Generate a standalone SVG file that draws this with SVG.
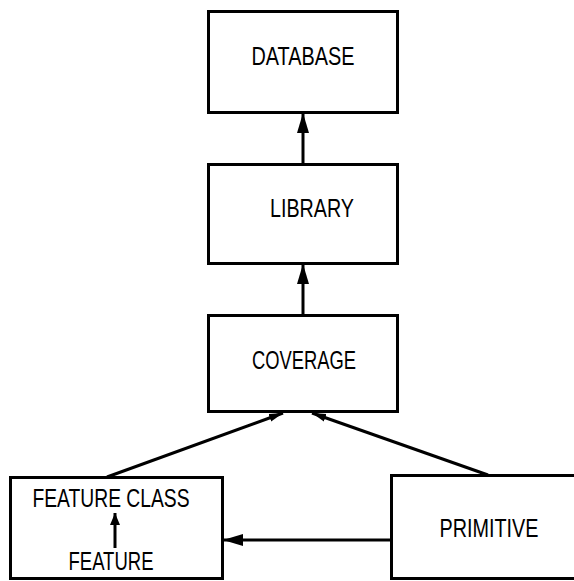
<svg xmlns="http://www.w3.org/2000/svg" width="574" height="581" viewBox="0 0 574 581">
<defs>
<marker id="ah" markerUnits="userSpaceOnUse" markerWidth="22" markerHeight="14" refX="20" refY="7" orient="auto">
<path d="M0,1 L20,7 L0,13 Z" fill="#000"/>
</marker>
<marker id="ahs" markerUnits="userSpaceOnUse" markerWidth="14" markerHeight="12" refX="12" refY="6" orient="auto">
<path d="M0,1 L12,6 L0,11 Z" fill="#000"/>
</marker>
<marker id="ahb" markerUnits="userSpaceOnUse" markerWidth="16" markerHeight="14" refX="14" refY="7" orient="auto">
<path d="M0,3 L14,7 L0,11 Z" fill="#000"/>
</marker>
</defs>
<style>
.box{fill:#fff;stroke:#000;stroke-width:3}
.lbl{font-family:"Liberation Sans",Arial,sans-serif;font-size:25px;fill:#000;text-anchor:middle}
.con{stroke:#000;stroke-width:3;fill:none}
</style>
<rect width="574" height="581" fill="#fff"/>
<g id="database">
<rect class="box" x="208.5" y="11.5" width="189" height="101"/>
<text class="lbl" x="303" y="65" textLength="103" lengthAdjust="spacingAndGlyphs">DATABASE</text>
</g>
<g id="library">
<rect class="box" x="208.5" y="164.5" width="189" height="99"/>
<text class="lbl" x="312" y="217" textLength="84" lengthAdjust="spacingAndGlyphs">LIBRARY</text>
</g>
<g id="coverage">
<rect class="box" x="208.5" y="315.5" width="189" height="96"/>
<text class="lbl" x="304" y="369" textLength="104" lengthAdjust="spacingAndGlyphs">COVERAGE</text>
</g>
<g id="feature-class">
<rect class="box" x="10.5" y="477.5" width="212" height="101"/>
<text class="lbl" x="111" y="507" textLength="157" lengthAdjust="spacingAndGlyphs">FEATURE CLASS</text>
<text class="lbl" x="111" y="570" textLength="85" lengthAdjust="spacingAndGlyphs">FEATURE</text>
<line class="con" x1="115" y1="548" x2="115" y2="513" marker-end="url(#ahs)"/>
</g>
<g id="primitive">
<rect class="box" x="391.5" y="475.5" width="190" height="103"/>
<text class="lbl" x="489" y="537" textLength="99" lengthAdjust="spacingAndGlyphs">PRIMITIVE</text>
</g>
<g id="connectors">
<line class="con" x1="303" y1="164" x2="303" y2="113" marker-end="url(#ah)"/>
<line class="con" x1="303" y1="315" x2="303" y2="264" marker-end="url(#ah)"/>
<line class="con" x1="107" y1="477" x2="283" y2="413" marker-end="url(#ahb)"/>
<line class="con" x1="488" y1="475" x2="312" y2="413" marker-end="url(#ahb)"/>
<line class="con" x1="391" y1="540" x2="223" y2="540" marker-end="url(#ah)"/>
</g>
</svg>
